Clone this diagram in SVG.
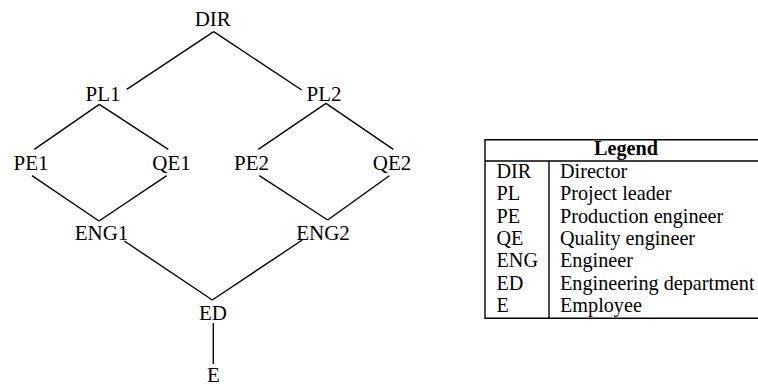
<svg xmlns="http://www.w3.org/2000/svg" width="758" height="385" viewBox="0 0 758 385">
<style>
.n{font-family:"Liberation Serif","Times New Roman",serif;font-size:21px;fill:#000;text-anchor:middle}
.e{stroke:#000;stroke-width:1.4;fill:none;stroke-linecap:butt}
.lg{font-family:"Liberation Serif","Times New Roman",serif;font-size:20.2px;fill:#000}
.tb{stroke:#000;stroke-width:1.4;fill:none}
</style>
<rect width="758" height="385" fill="#fff"/>
<g id="connectors" class="e">
<line x1="213.7" y1="31.7" x2="126.7" y2="89.3"/>
<line x1="213.7" y1="31.7" x2="301.7" y2="90"/>
<line x1="99.3" y1="104.3" x2="34.3" y2="149.3"/>
<line x1="99.3" y1="104.3" x2="168.3" y2="149.3"/>
<line x1="326" y1="103.3" x2="258.3" y2="149.3"/>
<line x1="326" y1="103.3" x2="393.3" y2="149.3"/>
<line x1="32" y1="175.7" x2="99" y2="221"/>
<line x1="166.7" y1="175.7" x2="99" y2="221"/>
<line x1="259.3" y1="175.7" x2="327.7" y2="220"/>
<line x1="389.3" y1="175.7" x2="327.7" y2="220"/>
<line x1="124.3" y1="241" x2="212.3" y2="300"/>
<line x1="302.3" y1="240" x2="212.3" y2="300"/>
<line x1="213.3" y1="323" x2="213.3" y2="364"/>
</g>
<g id="DIR"><text class="n" x="212.8" y="26">DIR</text></g>
<g id="PL1"><text class="n" x="103" y="101">PL1</text></g>
<g id="PL2"><text class="n" x="324" y="101">PL2</text></g>
<g id="PE1"><text class="n" x="31" y="170">PE1</text></g>
<g id="QE1"><text class="n" x="171.5" y="170">QE1</text></g>
<g id="PE2"><text class="n" x="251.5" y="170">PE2</text></g>
<g id="QE2"><text class="n" x="392" y="170">QE2</text></g>
<g id="ENG1"><text class="n" x="101.5" y="240">ENG1</text></g>
<g id="ENG2"><text class="n" x="323" y="240">ENG2</text></g>
<g id="ED"><text class="n" x="213" y="320">ED</text></g>
<g id="E"><text class="n" x="213.5" y="382">E</text></g>
<g id="legend">
<path class="tb" d="M770 139.7H485V318.3H770"/>
<line class="tb" x1="485" y1="161" x2="770" y2="161"/>
<line class="tb" x1="549" y1="161" x2="549" y2="318.3"/>
<text class="lg" x="626" y="155" text-anchor="middle" font-weight="bold">Legend</text>
<text class="lg" x="496.5" y="178">DIR</text><text class="lg" x="560" y="178">Director</text>
<text class="lg" x="496.5" y="200.3">PL</text><text class="lg" x="560" y="200.3">Project leader</text>
<text class="lg" x="496.5" y="222.6">PE</text><text class="lg" x="560" y="222.6">Production engineer</text>
<text class="lg" x="496.5" y="245">QE</text><text class="lg" x="560" y="245">Quality engineer</text>
<text class="lg" x="496.5" y="267.2">ENG</text><text class="lg" x="560" y="267.2">Engineer</text>
<text class="lg" x="496.5" y="289.5">ED</text><text class="lg" x="560" y="289.5">Engineering department</text>
<text class="lg" x="496.5" y="311.8">E</text><text class="lg" x="560" y="311.8">Employee</text>
</g>
</svg>
